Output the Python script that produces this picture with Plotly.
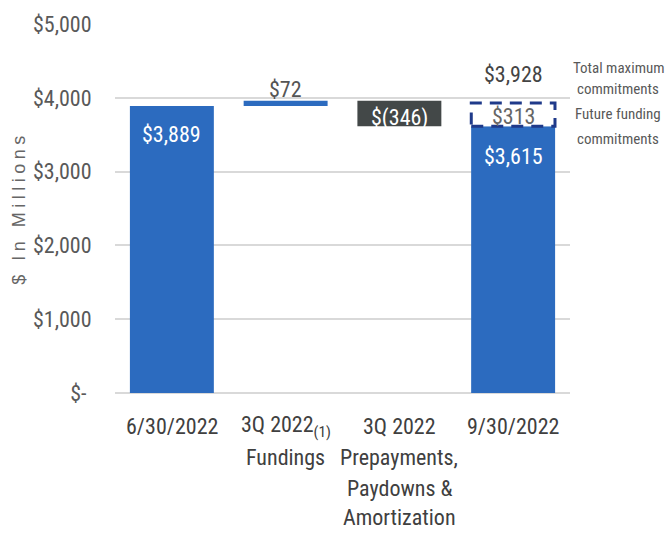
import plotly.graph_objects as go

# Loan portfolio roll-forward, $ in millions
categories = ["6/30/2022", "3Q 2022 Fundings", "3Q 2022 Prepayments", "9/30/2022"]
category_lines = [
    ["6/30/2022"],
    ["3Q 2022<sub>(1)</sub>", "Fundings"],
    ["3Q 2022", "Prepayments,", "Paydowns &", "Amortization"],
    ["9/30/2022"],
]
side_note_lines = ["Total maximum", "commitments", "Future funding", "commitments"]
opening_balance = 3889
fundings = 72
repayments = -346
closing_balance = 3615
future_funding = 313
total_commitments = 3928

y_ticks = [0, 1000, 2000, 3000, 4000, 5000]
y_tick_labels = ["$-\u00a0", "$1,000", "$2,000", "$3,000", "$4,000", "$5,000"]

BLUE = "#2c6bbf"
DARK = "#434848"
NAVY = "#1f3a8a"
FONT = "Liberation Sans Narrow, Roboto Condensed, Arial Narrow, sans-serif"

# plot-area geometry in pixels (used to place the category and side labels)
L, R, T, B = 115, 95, 21, 141
W, H = 665, 534
PW, PH = W - L - R, H - T - B


def paper_y(px):
    return (H - B - px) / PH


def paper_x(px):
    return (px - L) / PW


# waterfall built from floating bars
after_fundings = opening_balance + fundings
bases = [0, opening_balance, after_fundings + repayments, 0]
heights = [opening_balance, fundings, -repayments, closing_balance]
colors = [BLUE, BLUE, DARK, BLUE]

fig = go.Figure()
fig.add_trace(go.Bar(
    x=categories, y=heights, base=bases,
    marker=dict(color=colors, line=dict(width=0)),
    hoverinfo="skip", showlegend=False,
))

half_w = 0.368
# dashed box for unfunded commitments stacked on the closing balance
fig.add_shape(
    type="rect", xref="x", yref="y",
    x0=3 - half_w, x1=3 + half_w,
    y0=closing_balance, y1=closing_balance + future_funding,
    line=dict(color=NAVY, width=3, dash="12px,8px"),
    fillcolor="white", layer="above",
)


def label(xi, y, text, color, yshift):
    fig.add_annotation(
        x=categories[xi], y=y, xref="x", yref="y", text=text,
        showarrow=False, yanchor="middle", yshift=yshift,
        font=dict(family=FONT, size=22, color=color),
    )


label(0, opening_balance, "$3,889", "white", -29)
label(1, after_fundings, "$72", "#555555", 11)
label(2, after_fundings + repayments / 2, "$(346)", "white", -5)
label(3, total_commitments, "$3,928", "#444444", 29)
label(3, closing_balance + future_funding / 2, "$313", "#666666", -2)
label(3, closing_balance, "$3,615", "white", -30)

# category labels, one line at a time for even line spacing
line_px = [427, 458, 489, 519]
for cat, lines in zip(categories, category_lines):
    for i, txt in enumerate(lines):
        fig.add_annotation(
            x=cat, y=paper_y(line_px[i]), xref="x", yref="paper",
            text=txt, showarrow=False, xanchor="center", yanchor="middle",
            font=dict(family=FONT, size=22, color="#404040"),
        )

# side notes beside the last bar
for y_px, txt in zip([65, 87, 112, 137], side_note_lines):
    fig.add_annotation(
        x=paper_x(618), y=paper_y(y_px), xref="paper", yref="paper",
        text=txt, showarrow=False, xanchor="center", yanchor="middle",
        font=dict(family=FONT, size=15, color="#595959"),
    )

# axis title
fig.add_annotation(
    x=paper_x(18), y=paper_y(207), xref="paper", yref="paper",
    text="$ In Millions", textangle=-90, showarrow=False,
    xanchor="center", yanchor="middle",
    font=dict(family="Liberation Sans, Arial, sans-serif", size=18, color="#666666"),
)

fig.update_layout(
    width=W, height=H,
    margin=dict(l=L, r=R, t=T, b=B),
    paper_bgcolor="white", plot_bgcolor="white",
    bargap=0.262,
    showlegend=False,
    xaxis=dict(
        type="category", showticklabels=False, ticks="",
        showgrid=False, showline=False, zeroline=False, fixedrange=True,
    ),
    yaxis=dict(
        range=[0, 5000], tickvals=y_ticks, ticktext=y_tick_labels,
        ticks="outside", ticklen=18, tickcolor="rgba(0,0,0,0)",
        tickfont=dict(family=FONT, size=22, color="#595959"),
        showgrid=True, gridcolor="#d9d9d9", gridwidth=1.5,
        zeroline=True, zerolinecolor="#d9d9d9", zerolinewidth=1.5,
        showline=False, fixedrange=True,
    ),
)

spacing_js = """
document.querySelectorAll('text').forEach(function (t) {
  if (t.textContent === '$ In Millions') { t.style.letterSpacing = '4.5px'; }
});
"""

fig.write_html("out.html", post_script=spacing_js, config={"displayModeBar": False})
